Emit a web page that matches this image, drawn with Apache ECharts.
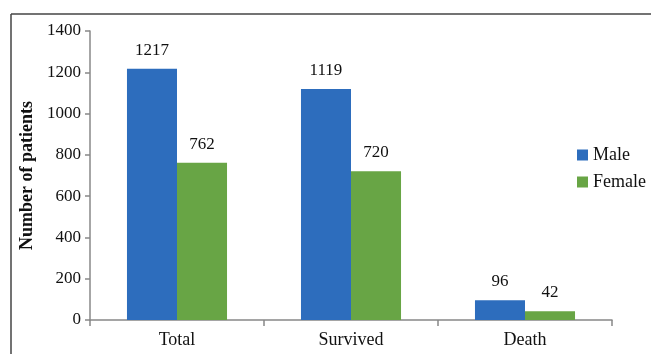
<!DOCTYPE html>
<html>
<head>
<meta charset="utf-8">
<script src="https://cdn.jsdelivr.net/npm/echarts@6/dist/echarts.min.js"></script>
<style>
  html, body { margin: 0; padding: 0; background: #fff; }
  #chart { width: 651px; height: 354px; }
</style>
</head>
<body>
<div id="chart"></div>
<script>
// data
var categories = ['Total', 'Survived', 'Death'];
var maleValues = [1217, 1119, 96];
var femaleValues = [762, 720, 42];
var yTicks = [0, 200, 400, 600, 800, 1000, 1200, 1400];

var serif = '"Liberation Serif", "DejaVu Serif", serif';
var myChart = echarts.init(document.getElementById('chart'));

myChart.setOption({
    animation: false,
    textStyle: { fontFamily: serif },
    // frame around the figure (top and left edges only)
    graphic: [
        { type: 'line', shape: { x1: 11, y1: 14, x2: 651, y2: 14 }, style: { stroke: '#444', lineWidth: 1.5 } },
        { type: 'line', shape: { x1: 11, y1: 14, x2: 11, y2: 354 }, style: { stroke: '#444', lineWidth: 1.5 } }
    ],
    legend: {
        orient: 'vertical',
        left: 577,
        top: 146,
        padding: 0,
        itemWidth: 11,
        itemHeight: 11,
        itemGap: 9,
        icon: 'rect',
        textStyle: { fontFamily: serif, fontSize: 18, color: '#111', padding: [0, 0, 0, 0] },
        data: ['Male', 'Female']
    },
    grid: { left: 90, right: 39, top: 31, bottom: 34 },
    xAxis: {
        type: 'category',
        data: categories,
        axisLine: { lineStyle: { color: '#888', width: 1.5 } },
        axisTick: { show: true, length: 6, lineStyle: { color: '#888', width: 1.5 } },
        axisLabel: { color: '#111', fontSize: 18, margin: 11, fontFamily: serif }
    },
    yAxis: {
        type: 'value',
        min: yTicks[0],
        max: yTicks[yTicks.length - 1],
        interval: 200,
        name: 'Number of patients',
        nameLocation: 'middle',
        nameGap: 51,
        nameTextStyle: { fontFamily: serif, fontSize: 18, fontWeight: 'bold', color: '#111' },
        axisLine: { show: true, lineStyle: { color: '#888', width: 1.5 } },
        axisTick: { show: true, length: 5, lineStyle: { color: '#888', width: 1.5 } },
        axisLabel: { color: '#111', fontSize: 17, margin: 9, fontFamily: serif, formatter: function (v) { return String(v); } },
        splitLine: { show: false }
    },
    series: [
        {
            name: 'Male',
            type: 'bar',
            data: maleValues,
            barGap: '0%',
            barCategoryGap: '42.5%',
            itemStyle: { color: '#2d6dbd' },
            label: { show: true, position: 'top', distance: 10, fontSize: 17, color: '#111', fontFamily: serif }
        },
        {
            name: 'Female',
            type: 'bar',
            data: femaleValues,
            barGap: '0%',
            barCategoryGap: '42.5%',
            itemStyle: { color: '#68a545' },
            label: { show: true, position: 'top', distance: 10, fontSize: 17, color: '#111', fontFamily: serif }
        }
    ]
});
</script>
</body>
</html>
